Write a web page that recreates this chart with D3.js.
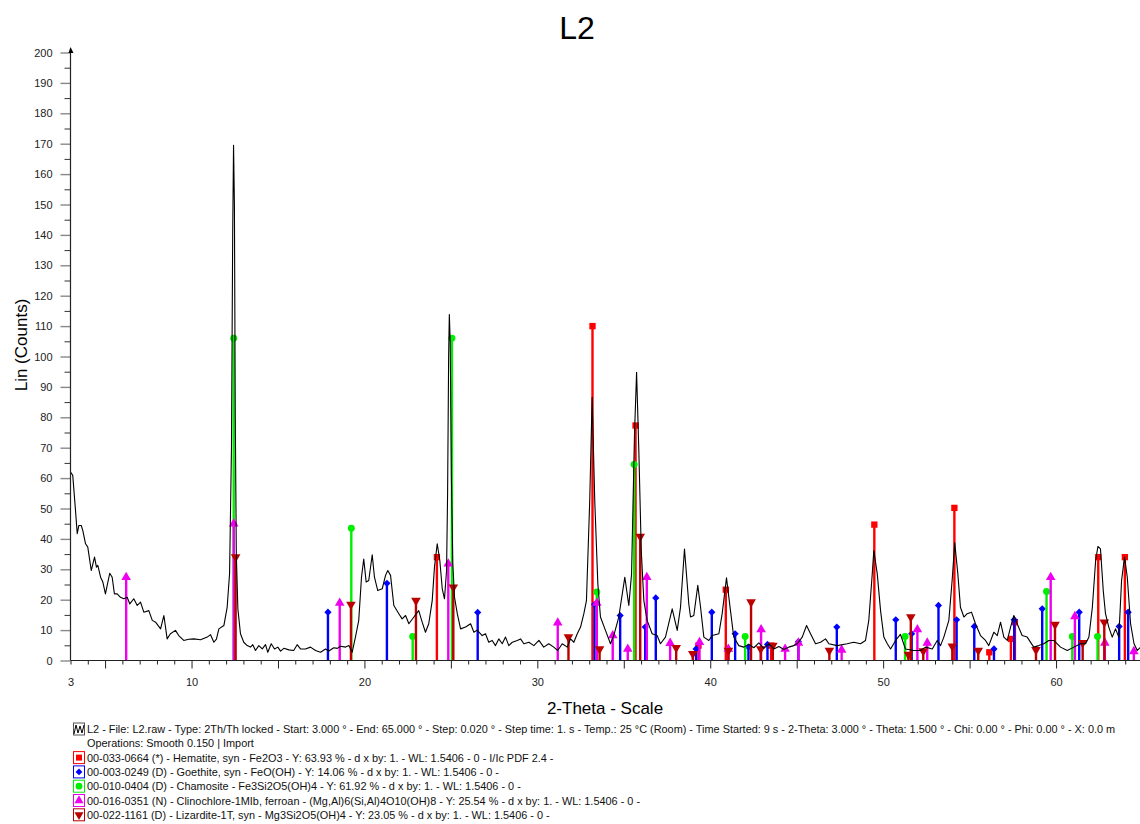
<!DOCTYPE html>
<html><head><meta charset="utf-8">
<script src="https://cdn.jsdelivr.net/npm/d3@7"></script>
<style>
html,body{margin:0;padding:0;background:#fff;}
text{font-family:"Liberation Sans",Arial,sans-serif;}
</style></head>
<body>
<svg id="chart" width="1140" height="824"></svg>
<script>
// ---------- DATA ----------
const chartTitle = "L2";
const xLabel = "2-Theta - Scale";
const yLabel = "Lin (Counts)";
const xTickLabels = [3, 10, 20, 30, 40, 50, 60];
const yTickLabels = [0,10,20,30,40,50,60,70,80,90,100,110,120,130,140,150,160,170,180,190,200];

// measured pattern (2-theta, counts)
const patternTheta = [3.00,3.13,3.29,3.39,3.48,3.62,3.71,3.87,4.00,4.20,4.39,4.50,4.58,4.74,4.87,5.02,5.27,5.41,5.54,5.70,5.89,6.08,6.28,6.43,6.66,6.86,7.05,7.24,7.53,7.73,7.92,8.21,8.40,8.59,8.78,9.07,9.26,9.55,9.84,10.13,10.52,10.91,11.10,11.29,11.44,11.58,11.87,12.06,12.20,12.31,12.38,12.43,12.48,12.53,12.59,12.68,12.83,
13.02,13.22,13.41,13.54,13.70,13.89,14.09,14.28,14.41,14.61,14.80,14.99,15.15,15.34,15.63,15.91,16.11,16.30,16.59,16.88,17.17,17.46,17.75,17.94,18.23,18.43,18.62,18.91,19.10,19.29,19.48,19.67,19.83,19.96,20.10,20.25,20.45,20.58,20.77,21.03,21.22,21.35,21.51,21.70,21.99,22.18,22.38,22.57,22.86,23.14,23.34,23.53,23.72,23.92,24.05,24.21,24.36,24.50,24.63,24.75,24.81,24.87,24.91,24.96,25.03,25.11,25.21,25.37,25.56,25.85,26.14,26.33,26.52,26.81,27.00,27.19,27.39,27.58,27.77,27.97,28.16,28.35,28.55,28.84,29.03,29.22,29.51,29.80,30.09,30.37,30.66,30.95,31.18,31.44,31.73,31.92,32.11,32.31,32.50,32.69,32.84,33.03,33.17,33.32,33.50,33.65,33.94,34.23,34.42,34.71,35.06,35.29,35.45,35.62,35.74,35.87,36.01,36.16,36.35,36.64,36.93,37.12,37.41,37.80,38.09,38.28,38.51,38.76,38.86,39.05,39.28,39.44,39.63,39.92,40.11,40.50,40.69,40.94,41.17,41.36,41.65,41.94,42.23,42.52,42.81,43.10,43.39,43.68,43.97,44.26,44.54,44.83,45.03,45.32,45.57,45.80,46.09,46.38,46.67,46.86,47.34,47.92,48.30,48.69,48.98,49.17,49.37,49.46,49.66,49.85,50.04,50.24,50.43,50.72,51.00,51.29,51.77,52.16,52.45,52.84,53.13,53.32,53.51,53.80,53.99,54.14,54.32,54.47,54.67,54.86,55.11,55.34,55.63,55.92,56.11,56.40,56.60,56.79,56.98,57.18,57.37,57.56,57.75,58.04,58.33,58.71,59.00,59.29,59.58,59.87,60.26,60.65,61.03,61.42,61.71,61.90,62.10,62.29,62.42,62.57,62.73,62.86,63.05,63.25,63.44,63.63,63.79,63.96,64.12,64.31,64.51,64.70,64.89,65.00];
const patternCounts = [62,60.9,49.3,41.7,44.4,44.4,42.8,38.4,37.3,29.6,34,30.7,31.3,27.4,25.8,21.9,28.7,27.4,21.9,21.9,20.8,20.3,20.8,18.6,20.3,18.1,19.2,15.9,16.4,13.2,12.6,10.4,14.8,7.1,8.8,9.9,8.2,6.6,7.0,7.1,6.8,7.7,8.5,6.0,7.0,10.4,11.5,17.5,28.6,70,140,169.5,150,80,35,17,8.8,
6,4.9,4.4,5.2,3.3,4.9,3.8,5.2,2.7,5.5,3.8,4.4,3.1,4.0,3.5,3.3,5.2,3.8,3.8,4.4,3.3,2.7,3.8,3.1,4.2,4.0,4.7,4.4,4.9,2.7,7.7,13.2,27.4,33.4,25.8,26.3,34.8,27.4,23,23.6,28,29.6,28,18.1,15.4,13.7,14.8,12.1,14.3,16.4,12.6,9.3,12.1,19.7,30.7,38.4,32.9,23.6,20.3,29.6,55,100,113.8,105,60,32,20.8,15.4,10.4,11,12.1,9.3,10,8.2,8.8,6,6.6,4.9,7.1,5.5,7.7,4.9,6,6.6,7.1,5.5,6,4.9,6.6,4.4,5.5,4.4,3.3,5.5,4.4,7.1,6,8.8,11,15.4,19.7,52.6,86.6,52.6,25.2,14.3,9.9,5.5,8.2,14.3,27.4,18.1,28.5,74.6,94.8,69,36.2,19.7,13.2,8.8,8.2,5.5,7.7,17,9.9,17.5,36.7,18.6,14.3,14.8,24.7,17.5,7.7,6.6,8.2,8.8,15.4,27.2,16.4,7.7,4.9,4.4,5.3,4.2,5.8,4.0,5.5,3.8,4.6,3.6,4.4,4.9,5.5,7.7,11.5,8.8,5.5,6,7.1,5.5,4.9,5.5,6,5.5,6.6,13.2,28.5,36.2,28.5,16.4,7.7,5.5,3.8,6.6,8.6,3.8,3.3,3.3,4.4,3.8,6.6,4.9,7.7,13.2,26.3,38.7,28.5,17.5,14.3,15.4,15.9,12.1,8.2,6.6,4.9,9.3,8.2,12.6,7.7,6.6,11,14.8,12.1,8.2,7.7,4.4,4.9,5.5,6.6,6.6,4.4,3.3,4.4,5.5,5.5,7.7,17.5,32.9,37.5,36.7,23,15.4,11,7.7,10.4,7.7,26.3,34,27.4,12.1,5.5,3.3,4.4,4.5];

// reference patterns (stick positions and heights)
const hematiteTheta = [24.19,33.19,35.68,39.32,40.90,43.52,49.49,54.12,56.14,57.39,57.62,62.44,63.98];
const hematiteCounts = [34.0,110.0,77.3,4.9,23.3,4.9,44.7,50.2,2.7,7.1,12.6,34.0,34.0];
const goethiteTheta = [17.89,21.30,26.55,33.31,34.79,36.24,36.85,39.18,40.09,41.44,42.21,43.31,45.10,47.32,50.73,51.65,53.20,54.25,55.27,56.41,57.58,59.20,61.34,63.65,64.17];
const goethiteCounts = [15.9,25.4,15.8,18.4,14.8,11.0,20.6,3.8,15.9,8.8,4.4,5.3,6.2,11.0,13.4,8.8,18.1,13.4,11.2,3.8,13.4,17.0,15.9,11.2,15.9];
const chamositeTheta = [12.44,19.24,22.79,25.06,33.44,35.60,42.02,51.27,59.45,60.94,62.40];
const chamositeCounts = [106,43.5,7.9,106,22.5,64.5,7.9,7.9,22.7,7.9,7.9];
const clinochloreTheta = [6.22,12.44,18.57,24.85,31.18,33.44,34.36,35.23,36.33,37.68,39.38,41.05,42.94,44.33,45.10,47.60,51.98,52.55,59.69,61.09,62.82,64.50];
const clinochloreCounts = [27.4,45.0,18.9,31.8,12.4,18.9,8.2,3.8,27.4,5.7,6.0,3.8,10.2,3.8,5.8,3.5,10.2,5.8,27.4,14.5,5.8,3.0];
const lizarditeTheta = [12.55,19.22,22.98,25.14,31.80,33.60,35.95,38.03,38.99,41.05,42.36,42.92,43.62,46.89,51.46,51.60,52.32,54.00,55.50,58.84,59.94,61.54,62.79];
const lizarditeCounts = [34.0,18.4,19.7,24.1,7.7,3.8,40.8,4.2,2.2,3.3,19.2,3.8,4.9,3.3,2.0,14.3,3.1,4.7,3.3,3.5,11.8,5.8,12.6];

const phaseNames = ["Hematite","Goethite","Chamosite","Clinochlore","Lizardite"];
const phaseColors = ["#ff0000","#0000ff","#00ee00","#ee00ee","#bb0000"];
const phaseSymbols = ["square","diamond","circle","triUp","triDown"];
const legendTexts = [
  "L2 - File: L2.raw - Type: 2Th/Th locked - Start: 3.000 \u00b0 - End: 65.000 \u00b0 - Step: 0.020 \u00b0 - Step time: 1. s - Temp.: 25 \u00b0C (Room) - Time Started: 9 s - 2-Theta: 3.000 \u00b0 - Theta: 1.500 \u00b0 - Chi: 0.00 \u00b0 - Phi: 0.00 \u00b0 - X: 0.0 m",
  "Operations: Smooth 0.150 | Import",
  "00-033-0664 (*) - Hematite, syn - Fe2O3 - Y: 63.93 % - d x by: 1. - WL: 1.5406 - 0 - I/Ic PDF 2.4 -",
  "00-003-0249 (D) - Goethite, syn - FeO(OH) - Y: 14.06 % - d x by: 1. - WL: 1.5406 - 0 -",
  "00-010-0404 (D) - Chamosite - Fe3Si2O5(OH)4 - Y: 61.92 % - d x by: 1. - WL: 1.5406 - 0 -",
  "00-016-0351 (N) - Clinochlore-1MIb, ferroan - (Mg,Al)6(Si,Al)4O10(OH)8 - Y: 25.54 % - d x by: 1. - WL: 1.5406 - 0 -",
  "00-022-1161 (D) - Lizardite-1T, syn - Mg3Si2O5(OH)4 - Y: 23.05 % - d x by: 1. - WL: 1.5406 - 0 -"
];

const phases = [
  {theta: hematiteTheta, counts: hematiteCounts},
  {theta: goethiteTheta, counts: goethiteCounts},
  {theta: chamositeTheta, counts: chamositeCounts},
  {theta: clinochloreTheta, counts: clinochloreCounts},
  {theta: lizarditeTheta, counts: lizarditeCounts}
];

// ---------- DRAW ----------
const svg = d3.select("#chart");
const x = d3.scaleLinear().domain([3, 65]).range([70.5, 1142.5]);
const y = d3.scaleLinear().domain([0, 200]).range([660.5, 52.5]);

function symbolPath(kind, s) {
  const map = {square: d3.symbolSquare, diamond: d3.symbolSquare, circle: d3.symbolCircle,
               triUp: d3.symbolTriangle, triDown: d3.symbolTriangle};
  return d3.symbol().type(map[kind]).size(s)();
}
function symbolRot(kind) {
  return kind === "triDown" ? 180 : (kind === "diamond" ? 45 : 0);
}

// title
svg.append("text").attr("x", 577).attr("y", 39).attr("text-anchor", "middle")
  .attr("font-size", 32).attr("fill", "#000").text(chartTitle);

// sticks
const stickG = svg.append("g");
phases.forEach((p, i) => {
  const g = stickG.append("g");
  const col = phaseColors[i];
  p.theta.forEach((t, j) => {
    g.append("line").attr("x1", x(t)).attr("x2", x(t))
      .attr("y1", y(0)).attr("y2", y(p.counts[j]))
      .attr("stroke", col).attr("stroke-width", 2.4);
  });
  p.theta.forEach((t, j) => {
    const k = phaseSymbols[i];
    const sz = k === "diamond" ? 26 : (k === "circle" ? 38 : 40);
    g.append("path").attr("d", symbolPath(k, sz))
      .attr("transform", `translate(${x(t)},${y(p.counts[j])}) rotate(${symbolRot(k)})`)
      .attr("fill", col);
  });
});

// pattern
const line = d3.line().x((d, i) => x(patternTheta[i])).y((d, i) => y(patternCounts[i]));
svg.append("path").datum(patternCounts).attr("d", line)
  .attr("fill", "none").attr("stroke", "#000").attr("stroke-width", 1.1)
  .attr("stroke-linejoin", "round");

// x axis
const xMinor = svg.append("g").attr("transform", `translate(0,${y(0)})`)
  .call(d3.axisBottom(x).tickValues(d3.range(3, 66).filter(v => v % 5 !== 0)).tickSize(4).tickSizeOuter(0).tickFormat(""));
const xMajor = svg.append("g").attr("transform", `translate(0,${y(0)})`)
  .call(d3.axisBottom(x).tickValues(d3.range(5, 66, 5)).tickSize(8).tickSizeOuter(0).tickFormat(""));
const xLab = svg.append("g").attr("transform", `translate(0,${y(0)})`)
  .call(d3.axisBottom(x).tickValues(xTickLabels).tickSize(0).tickPadding(18).tickSizeOuter(0).tickFormat(d3.format("d")));
[xMinor, xMajor, xLab].forEach(g => {
  g.select(".domain").remove();
  g.selectAll("line").attr("stroke", "#222");
  g.selectAll("text").attr("font-size", 11).attr("fill", "#222").attr("font-family", "Liberation Sans, Arial, sans-serif");
});
svg.append("line").attr("x1", x(3)).attr("x2", 1140).attr("y1", y(0)).attr("y2", y(0))
  .attr("stroke", "#222").attr("stroke-width", 1.2);

// y axis
const yMinor = svg.append("g").attr("transform", `translate(${x(3)},0)`)
  .call(d3.axisLeft(y).tickValues(d3.range(5, 200, 10)).tickSize(6).tickSizeOuter(0).tickFormat(""));
const yMajor = svg.append("g").attr("transform", `translate(${x(3)},0)`)
  .call(d3.axisLeft(y).tickValues(yTickLabels).tickSize(10).tickPadding(8).tickSizeOuter(0).tickFormat(d3.format("d")));
[yMinor, yMajor].forEach(g => {
  g.select(".domain").remove();
  g.selectAll("text").attr("font-size", 11).attr("fill", "#222").attr("font-family", "Liberation Sans, Arial, sans-serif");
});
yMinor.selectAll("line").attr("stroke", "#333");
yMajor.selectAll("line").attr("stroke", "#888").attr("stroke-width", 1.4);
svg.append("line").attr("x1", x(3)).attr("x2", x(3)).attr("y1", y(0)).attr("y2", 49)
  .attr("stroke", "#222").attr("stroke-width", 1.2);
svg.append("path").attr("d", `M${x(3) - 2},${53} L${x(3) + 3},${53} L${x(3)},${47} Z`).attr("fill", "#000");

// axis titles
svg.append("text").attr("x", 605).attr("y", 714).attr("text-anchor", "middle")
  .attr("font-size", 17).attr("fill", "#000").text(xLabel);
svg.append("text").attr("transform", "translate(27,345) rotate(-90)").attr("text-anchor", "middle")
  .attr("font-size", 17).attr("fill", "#000").text(yLabel);

// legend
const legG = svg.append("g");
const rowY = i => 729 + i * 14.3;
legendTexts.forEach((t, i) => {
  legG.append("text").attr("x", 87).attr("y", rowY(i) + 4).attr("font-size", 10.9)
    .attr("fill", "#111").text(t);
});
// pattern icon
legG.append("rect").attr("x", 73.5).attr("y", rowY(0) - 6).attr("width", 11).attr("height", 12)
  .attr("fill", "#fff").attr("stroke", "#555");
legG.append("path").attr("d", `M74,${rowY(0)+5} L76,${rowY(0)-4} L78,${rowY(0)+4} L80,${rowY(0)-3} L82,${rowY(0)+4} L84,${rowY(0)-4}`)
  .attr("fill", "none").attr("stroke", "#000").attr("stroke-width", 1);
phaseNames.forEach((n, i) => {
  const cy = rowY(i + 2);
  const k = phaseSymbols[i];
  legG.append("rect").attr("x", 73.5).attr("y", cy - 6).attr("width", 11).attr("height", 12)
    .attr("fill", "#fff").attr("stroke", phaseColors[i]);
  legG.append("path").attr("d", symbolPath(k, k === "diamond" ? 24 : 36))
    .attr("transform", `translate(79,${cy}) rotate(${symbolRot(k)})`).attr("fill", phaseColors[i]);
});
</script>
</body></html>
